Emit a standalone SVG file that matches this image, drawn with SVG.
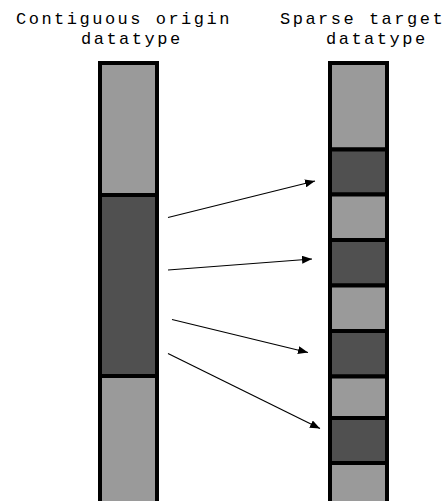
<svg xmlns="http://www.w3.org/2000/svg" width="447" height="501" viewBox="0 0 447 501">
  <style>
    .label { font-family: "Liberation Mono", "Courier New", monospace; font-size: 17px; letter-spacing: 2.5px; fill: #000; }
    .light { fill: #9a9a9a; stroke: #000; stroke-width: 4; }
    .dark { fill: #505050; stroke: #000; stroke-width: 4; }
    .link { stroke: #000; stroke-width: 1.2; fill: none; marker-end: url(#head); }
  </style>
  <defs>
    <marker id="head" viewBox="0 0 10 8" refX="10" refY="4" markerWidth="10" markerHeight="8" markerUnits="userSpaceOnUse" orient="auto">
      <path d="M0,0 L10,4 L0,8 Z" fill="#000"/>
    </marker>
  </defs>
  <rect width="447" height="501" fill="#fff"/>

  <g id="origin-title">
    <text class="label" x="16" y="24">Contiguous origin</text>
    <text class="label" x="81" y="44">datatype</text>
  </g>
  <g id="target-title">
    <text class="label" x="280" y="24">Sparse target</text>
    <text class="label" x="326" y="44">datatype</text>
  </g>

  <g id="origin">
    <rect class="light" x="100" y="63" width="57" height="132"/>
    <rect class="dark" x="100" y="195" width="57" height="181"/>
    <rect class="light" x="100" y="376" width="57" height="140"/>
  </g>

  <g id="target">
    <rect class="light" x="330" y="63" width="57" height="86.5"/>
    <rect class="dark" x="330" y="149.5" width="57" height="45"/>
    <rect class="light" x="330" y="194.5" width="57" height="45.5"/>
    <rect class="dark" x="330" y="240" width="57" height="45.5"/>
    <rect class="light" x="330" y="285.5" width="57" height="45.5"/>
    <rect class="dark" x="330" y="331" width="57" height="45.5"/>
    <rect class="light" x="330" y="376.5" width="57" height="41.5"/>
    <rect class="dark" x="330" y="418" width="57" height="45"/>
    <rect class="light" x="330" y="463" width="57" height="50"/>
  </g>

  <g id="connectors">
    <line class="link" x1="168" y1="217.5" x2="315" y2="181"/>
    <line class="link" x1="168" y1="270" x2="312" y2="259"/>
    <line class="link" x1="172" y1="319.5" x2="308" y2="352.5"/>
    <line class="link" x1="168" y1="353.5" x2="320" y2="428.5"/>
  </g>
</svg>
